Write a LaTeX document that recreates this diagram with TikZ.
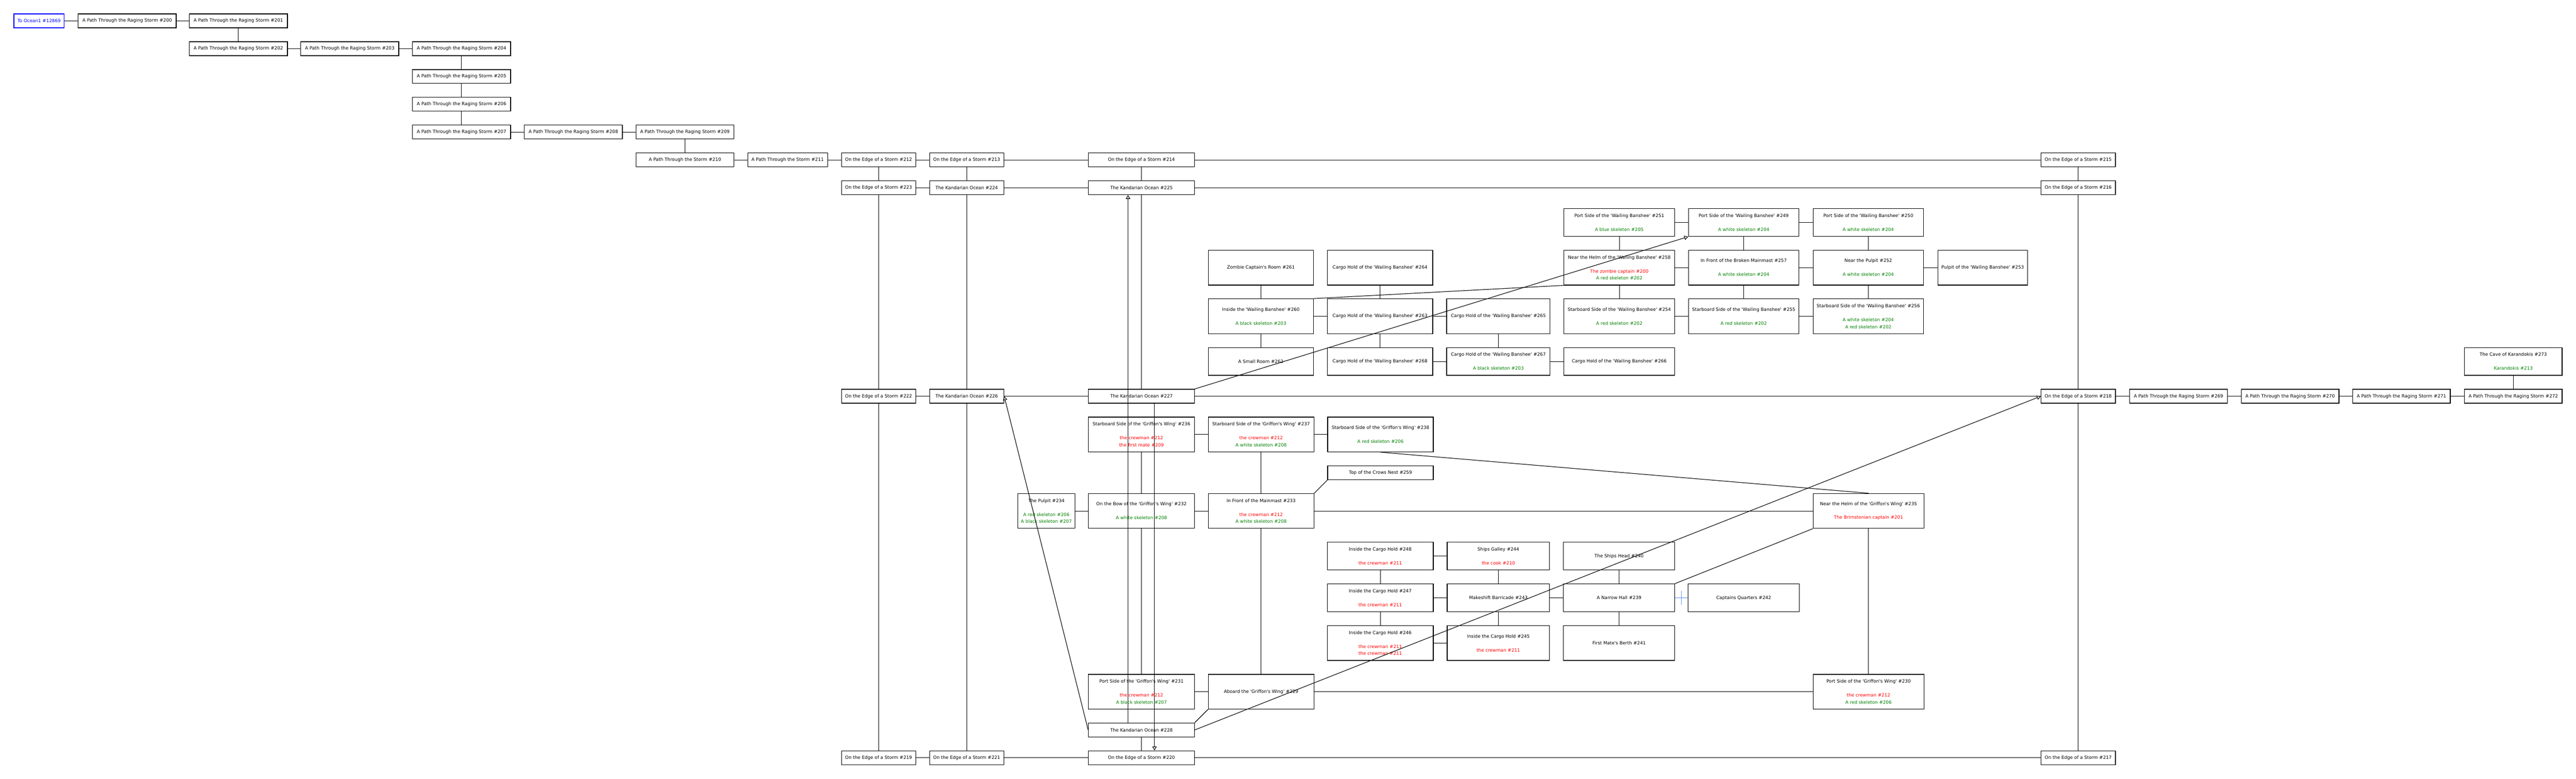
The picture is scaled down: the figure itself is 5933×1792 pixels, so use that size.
\documentclass[tikz,border=0pt]{standalone}
\usepackage{fontspec}
\usepackage{tikz}
\usetikzlibrary{arrows.meta}
\newfontfamily\roomfont[Ligatures=TeXOff]{DejaVu Sans}
\definecolor{mobgreen}{RGB}{0,128,0}
\definecolor{doorblue}{RGB}{100,149,237}
\newcommand{\mob}[1]{\textcolor{mobgreen}{#1}}
\newcommand{\npc}[1]{\textcolor{red}{#1}}
\begin{document}
\begin{tikzpicture}[x=1pt,y=-1pt,
	room/.style={draw,line width=1.6pt,fill=white,inner sep=0pt,align=center,
	font={\roomfont\fontsize{10.4pt}{16pt}\selectfont}},
	exit/.style={room,draw=blue,text=blue},
	link/.style={line width=1.3pt},
	oneway/.style={line width=1.3pt,-{Triangle[open,length=9pt,width=10pt]}},
	door/.style={line width=1.3pt,draw=doorblue}]
\useasboundingbox (0,0) rectangle (5933,1792);
\node [exit, minimum width=116, minimum height=32] (ocean) at (90,48) {To Ocean1 \#12869};
\node [room, minimum width=226, minimum height=32] (r200) at (293,48) {A Path Through the Raging Storm \#200};
\node [room, minimum width=226, minimum height=32] (r201) at (549,48) {A Path Through the Raging Storm \#201};
\node [room, minimum width=226, minimum height=32] (r202) at (549,112) {A Path Through the Raging Storm \#202};
\node [room, minimum width=226, minimum height=32] (r203) at (805.5,112) {A Path Through the Raging Storm \#203};
\node [room, minimum width=226, minimum height=32] (r204) at (1063,112) {A Path Through the Raging Storm \#204};
\node [room, minimum width=226, minimum height=32] (r205) at (1063,176) {A Path Through the Raging Storm \#205};
\node [room, minimum width=226, minimum height=32] (r206) at (1063,240) {A Path Through the Raging Storm \#206};
\node [room, minimum width=226, minimum height=32] (r207) at (1063,304) {A Path Through the Raging Storm \#207};
\node [room, minimum width=226, minimum height=32] (r208) at (1320.5,304) {A Path Through the Raging Storm \#208};
\node [room, minimum width=226, minimum height=32] (r209) at (1577.5,304) {A Path Through the Raging Storm \#209};
\node [room, minimum width=226, minimum height=32] (r210) at (1577.5,368) {A Path Through the Storm \#210};
\node [room, minimum width=184, minimum height=32] (r211) at (1814,368) {A Path Through the Storm \#211};
\node [room, minimum width=171, minimum height=32] (r212) at (2023.5,368) {On the Edge of a Storm \#212};
\node [room, minimum width=171, minimum height=32] (r213) at (2226.5,368) {On the Edge of a Storm \#213};
\node [room, minimum width=244, minimum height=32] (r214) at (2629,368) {On the Edge of a Storm \#214};
\node [room, minimum width=171, minimum height=32] (r215) at (4786.5,368) {On the Edge of a Storm \#215};
\node [room, minimum width=171, minimum height=32] (r223) at (2023.5,432) {On the Edge of a Storm \#223};
\node [room, minimum width=171, minimum height=32] (r224) at (2226.5,432) {The Kandarian Ocean \#224};
\node [room, minimum width=244, minimum height=32] (r225) at (2629,432) {The Kandarian Ocean \#225};
\node [room, minimum width=171, minimum height=32] (r216) at (4786.5,432) {On the Edge of a Storm \#216};
\node [room, minimum width=171, minimum height=32] (r222) at (2023.5,912) {On the Edge of a Storm \#222};
\node [room, minimum width=171, minimum height=32] (r226) at (2226.5,912) {The Kandarian Ocean \#226};
\node [room, minimum width=244, minimum height=32] (r227) at (2629,912) {The Kandarian Ocean \#227};
\node [room, minimum width=171, minimum height=32] (r218) at (4786.5,912) {On the Edge of a Storm \#218};
\node [room, minimum width=225, minimum height=32] (r269) at (5017.5,912) {A Path Through the Raging Storm \#269};
\node [room, minimum width=225, minimum height=32] (r270) at (5274.5,912) {A Path Through the Raging Storm \#270};
\node [room, minimum width=225, minimum height=32] (r271) at (5531,912) {A Path Through the Raging Storm \#271};
\node [room, minimum width=225, minimum height=32] (r272) at (5788.5,912) {A Path Through the Raging Storm \#272};
\node [room, minimum width=225, minimum height=64] (r273) at (5788.5,832) {The Cave of Karandokis \#273\\[16pt]\mob{Karandokis \#213}};
\node [room, minimum width=171, minimum height=32] (r219) at (2023.5,1744) {On the Edge of a Storm \#219};
\node [room, minimum width=171, minimum height=32] (r221) at (2226.5,1744) {On the Edge of a Storm \#221};
\node [room, minimum width=244, minimum height=32] (r220) at (2629,1744) {On the Edge of a Storm \#220};
\node [room, minimum width=171, minimum height=32] (r217) at (4786.5,1744) {On the Edge of a Storm \#217};
\node [room, minimum width=244, minimum height=32] (r228) at (2629,1680) {The Kandarian Ocean \#228};
\node [room, minimum width=255, minimum height=64] (r251) at (3729.5,512) {Port Side of the 'Wailing Banshee' \#251\\[16pt]\mob{A blue skeleton \#205}};
\node [room, minimum width=254, minimum height=64] (r249) at (4016,512) {Port Side of the 'Wailing Banshee' \#249\\[16pt]\mob{A white skeleton \#204}};
\node [room, minimum width=254, minimum height=64] (r250) at (4303,512) {Port Side of the 'Wailing Banshee' \#250\\[16pt]\mob{A white skeleton \#204}};
\node [room, minimum width=255, minimum height=80] (r258) at (3729.5,616) {Near the Helm of the 'Wailing Banshee' \#258\\[16pt]\npc{The zombie captain \#200}\\\mob{A red skeleton \#202}};
\node [room, minimum width=254, minimum height=80] (r257) at (4016,616) {In Front of the Broken Mainmast \#257\\[16pt]\mob{A white skeleton \#204}};
\node [room, minimum width=254, minimum height=80] (r252) at (4303,616) {Near the Pulpit \#252\\[16pt]\mob{A white skeleton \#204}};
\node [room, minimum width=207, minimum height=80] (r253) at (4566.5,616) {Pulpit of the 'Wailing Banshee' \#253};
\node [room, minimum width=255, minimum height=80] (r254) at (3729.5,728) {Starboard Side of the 'Wailing Banshee' \#254\\[16pt]\mob{A red skeleton \#202}};
\node [room, minimum width=254, minimum height=80] (r255) at (4016,728) {Starboard Side of the 'Wailing Banshee' \#255\\[16pt]\mob{A red skeleton \#202}};
\node [room, minimum width=254, minimum height=80] (r256) at (4303,728) {Starboard Side of the 'Wailing Banshee' \#256\\[16pt]\mob{A white skeleton \#204}\\\mob{A red skeleton \#202}};
\node [room, minimum width=242, minimum height=80] (r261) at (2904,616) {Zombie Captain's Room \#261};
\node [room, minimum width=243, minimum height=80] (r264) at (3178.5,616) {Cargo Hold of the 'Wailing Banshee' \#264};
\node [room, minimum width=242, minimum height=80] (r260) at (2904,728) {Inside the 'Wailing Banshee' \#260\\[16pt]\mob{A black skeleton \#203}};
\node [room, minimum width=243, minimum height=80] (r263) at (3178.5,728) {Cargo Hold of the 'Wailing Banshee' \#263};
\node [room, minimum width=238, minimum height=80] (r265) at (3451,728) {Cargo Hold of the 'Wailing Banshee' \#265};
\node [room, minimum width=242, minimum height=64] (r262) at (2904,832) {A Small Room \#262};
\node [room, minimum width=243, minimum height=64] (r268) at (3178.5,832) {Cargo Hold of the 'Wailing Banshee' \#268};
\node [room, minimum width=238, minimum height=64] (r267) at (3451,832) {Cargo Hold of the 'Wailing Banshee' \#267\\[16pt]\mob{A black skeleton \#203}};
\node [room, minimum width=255, minimum height=64] (r266) at (3729.5,832) {Cargo Hold of the 'Wailing Banshee' \#266};
\node [room, minimum width=244, minimum height=80] (r236) at (2629,1000) {Starboard Side of the 'Griffon's Wing' \#236\\[16pt]\npc{the crewman \#212}\\\npc{the first mate \#209}};
\node [room, minimum width=243, minimum height=80] (r237) at (2904.5,1000) {Starboard Side of the 'Griffon's Wing' \#237\\[16pt]\npc{the crewman \#212}\\\mob{A white skeleton \#208}};
\node [room, minimum width=243, minimum height=80] (r238) at (3179.5,1000) {Starboard Side of the 'Griffon's Wing' \#238\\[16pt]\mob{A red skeleton \#206}};
\node [room, minimum width=243, minimum height=32] (r259) at (3179.5,1088) {Top of the Crows Nest \#259};
\node [room, minimum width=132, minimum height=80] (r234) at (2410,1176) {The Pulpit \#234\\[16pt]\mob{A red skeleton \#206}\\\mob{A black skeleton \#207}};
\node [room, minimum width=244, minimum height=80] (r232) at (2629,1176) {On the Bow of the 'Griffon's Wing' \#232\\[16pt]\mob{A white skeleton \#208}};
\node [room, minimum width=243, minimum height=80] (r233) at (2904.5,1176) {In Front of the Mainmast \#233\\[16pt]\npc{the crewman \#212}\\\mob{A white skeleton \#208}};
\node [room, minimum width=255, minimum height=80] (r235) at (4303.5,1176) {Near the Helm of the 'Griffon's Wing' \#235\\[16pt]\npc{The Brimstonian captain \#201}};
\node [room, minimum width=244, minimum height=64] (r248) at (3179,1280) {Inside the Cargo Hold \#248\\[16pt]\npc{the crewman \#211}};
\node [room, minimum width=236, minimum height=64] (r244) at (3451,1280) {Ships Galley \#244\\[16pt]\npc{the cook \#210}};
\node [room, minimum width=256, minimum height=64] (r240) at (3729,1280) {The Ships Head \#240};
\node [room, minimum width=244, minimum height=64] (r247) at (3179,1376) {Inside the Cargo Hold \#247\\[16pt]\npc{the crewman \#211}};
\node [room, minimum width=236, minimum height=64] (r243) at (3451,1376) {Makeshift Barricade \#243};
\node [room, minimum width=256, minimum height=64] (r239) at (3729,1376) {A Narrow Hall \#239};
\node [room, minimum width=256, minimum height=64] (r242) at (4016,1376) {Captains Quarters \#242};
\node [room, minimum width=244, minimum height=80] (r246) at (3179,1480) {Inside the Cargo Hold \#246\\[16pt]\npc{the crewman \#211}\\\npc{the crewman \#211}};
\node [room, minimum width=236, minimum height=80] (r245) at (3451,1480) {Inside the Cargo Hold \#245\\[16pt]\npc{the crewman \#211}};
\node [room, minimum width=256, minimum height=80] (r241) at (3729,1480) {First Mate's Berth \#241};
\node [room, minimum width=244, minimum height=80] (r231) at (2629,1592) {Port Side of the 'Griffon's Wing' \#231\\[16pt]\npc{the crewman \#212}\\\mob{A black skeleton \#207}};
\node [room, minimum width=243, minimum height=80] (r229) at (2904.5,1592) {Aboard the 'Griffon's Wing' \#229};
\node [room, minimum width=255, minimum height=80] (r230) at (4303.5,1592) {Port Side of the 'Griffon's Wing' \#230\\[16pt]\npc{the crewman \#212}\\\mob{A red skeleton \#206}};
\draw [link] (ocean)--(r200);
\draw [link] (r200)--(r201);
\draw [link] (r201)--(r202);
\draw [link] (r202)--(r203);
\draw [link] (r203)--(r204);
\draw [link] (r204)--(r205);
\draw [link] (r205)--(r206);
\draw [link] (r206)--(r207);
\draw [link] (r207)--(r208);
\draw [link] (r208)--(r209);
\draw [link] (r209)--(r210);
\draw [link] (r210)--(r211);
\draw [link] (r211)--(r212);
\draw [link] (r212)--(r213);
\draw [link] (r213)--(r214);
\draw [link] (r214)--(r215);
\draw [link] (r212)--(r223);
\draw [link] (r213)--(r224);
\draw [link] (r214)--(r225);
\draw [link] (r215)--(r216);
\draw [link] (r223)--(r224);
\draw [link] (r224)--(r225);
\draw [link] (r225)--(r216);
\draw [link] (r223)--(r222);
\draw [link] (r224)--(r226);
\draw [link] (r225)--(r227);
\draw [link] (r216)--(r218);
\draw [link] (r222)--(r226);
\draw [link] (r226)--(r227);
\draw [link] (r227)--(r218);
\draw [link] (r218)--(r269);
\draw [link] (r269)--(r270);
\draw [link] (r270)--(r271);
\draw [link] (r271)--(r272);
\draw [link] (r272)--(r273);
\draw [link] (r222)--(r219);
\draw [link] (r226)--(r221);
\draw [link] (r218)--(r217);
\draw [link] (r219)--(r221);
\draw [link] (r221)--(r220);
\draw [link] (r220)--(r217);
\draw [link] (r228)--(r220);
\draw [link] (r251)--(r249);
\draw [link] (r249)--(r250);
\draw [link] (r251)--(r258);
\draw [link] (r249)--(r257);
\draw [link] (r250)--(r252);
\draw [link] (r258)--(r257);
\draw [link] (r257)--(r252);
\draw [link] (r252)--(r253);
\draw [link] (r258)--(r254);
\draw [link] (r257)--(r255);
\draw [link] (r252)--(r256);
\draw [link] (r254)--(r255);
\draw [link] (r255)--(r256);
\draw [link] (r261)--(r260);
\draw [link] (r264)--(r263);
\draw [link] (r260)--(r263);
\draw [link] (r263)--(r265);
\draw [link] (r260)--(r262);
\draw [link] (r263)--(r268);
\draw [link] (r265)--(r267);
\draw [link] (r268)--(r267);
\draw [link] (r267)--(r266);
\draw [link] (r260.north east)--(r258.south west);
\draw [link] (r236)--(r237);
\draw [link] (r237)--(r238);
\draw [link] (r236)--(r232);
\draw [link] (r237)--(r233);
\draw [link] (r233.north east)--(r259.south west);
\draw [link] (r234)--(r232);
\draw [link] (r232)--(r233);
\draw [link] (r233)--(r235);
\draw [link] (r232)--(r231);
\draw [link] (r233)--(r229);
\draw [link] (r231)--(r229);
\draw [link] (r229)--(r230);
\draw [link] (r235)--(r230);
\draw [link] (r229.south west)--(r228.north east);
\draw [link] (r238.south)--(r235.north);
\draw [link] (r239.north east)--(r235.south west);
\draw [link] (r248)--(r244);
\draw [link] (r244)--(r243);
\draw [link] (r240)--(r239);
\draw [link] (r248)--(r247);
\draw [link] (r247)--(r243);
\draw [link] (r243)--(r239);
\draw [link] (r247)--(r246);
\draw [link] (r243)--(r245);
\draw [link] (r246)--(r245);
\draw [link] (r239)--(r241);
\draw [door] (r239)--(r242) coordinate [midway] (hatch);
\draw [door] ([yshift=16pt]hatch)--([yshift=-16pt]hatch);
\draw [oneway] (r227.north east)--(r249.south west);
\draw [oneway] (r228.east)--(r218.west);
\draw [oneway] (r228.west)--(r226.east);
\draw [oneway] ([xshift=-31pt]r228.north)--([xshift=-31pt]r225.south);
\draw [oneway] ([xshift=30pt]r227.south)--([xshift=30pt]r220.north);
\end{tikzpicture}
\end{document}
